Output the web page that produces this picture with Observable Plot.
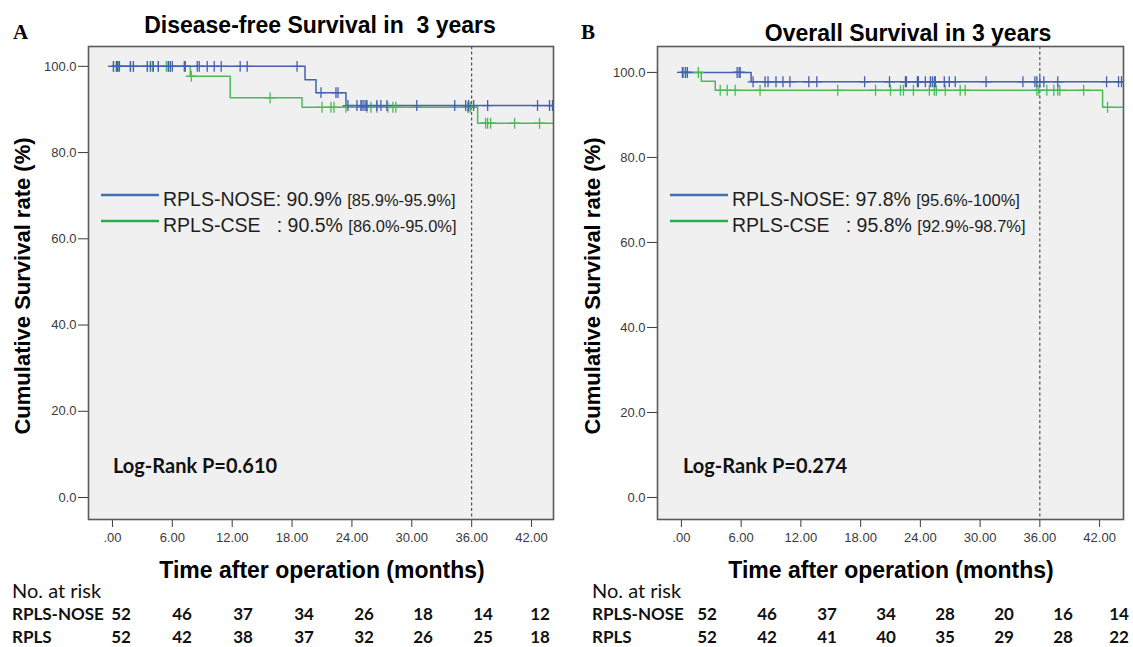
<!DOCTYPE html>
<html><head><meta charset="utf-8">
<script src="https://cdn.jsdelivr.net/npm/d3@7"></script>
<script src="https://cdn.jsdelivr.net/npm/@observablehq/plot@0.6"></script>
<style>
html,body{margin:0;padding:0;background:#fff;}
#wrap{position:relative;width:1133px;height:647px;overflow:hidden;font-family:"Liberation Sans",Arial,sans-serif;}
#wrap > svg{position:absolute;}
</style></head><body><div id="wrap"></div>
<script>
// ---------- data ----------
const tickMonths = [0, 6, 12, 18, 24, 30, 36, 42];
const yTicks = [0, 20, 40, 60, 80, 100];
const seriesNames = ["RPLS-NOSE", "RPLS-CSE"];
const riskRowLabels = ["RPLS-NOSE", "RPLS"];

// Panel A: disease-free survival (step times, survival %)
const A_nose_t = [0, 19.3, 20.4, 23.4];
const A_nose_s = [100, 96.9, 93.9, 90.9];
const A_cse_t = [0, 7.8, 11.8, 19.0, 36.6];
const A_cse_s = [100, 97.7, 92.7, 90.5, 86.8];
const A_nose_censor = [0.1, 0.4, 0.5, 0.7, 1.8, 2.1, 3.5, 3.8, 4.1, 4.6, 5.6, 5.8, 6.0, 7.2, 7.3, 8.5, 8.7, 9.5, 10.2, 10.9, 12.8, 13.5, 18.5, 20.9, 22.4, 22.6, 23.6, 24.5, 24.9, 25.0, 25.2, 25.4, 25.5, 26.5, 26.9, 27.5, 30.5, 34.3, 35.4, 35.7, 36.2, 37.6, 42.6, 43.8, 44.1];
const A_cse_censor = [0.1, 0.4, 0.6, 1.8, 2.1, 3.5, 4.0, 4.6, 5.4, 5.6, 5.8, 7.9, 15.8, 21.0, 21.9, 22.2, 23.4, 25.5, 25.9, 26.5, 27.6, 28.1, 28.4, 35.6, 35.7, 35.9, 37.4, 37.6, 37.9, 40.3, 42.8];
const A_legend = ["90.9%", "90.5%"];
const A_ci = ["[85.9%-95.9%]", "[86.0%-95.0%]"];
const A_pvalue = "Log-Rank P=0.610";
const A_riskNose = [52, 46, 37, 34, 26, 18, 14, 12];
const A_riskRpls = [52, 42, 38, 37, 32, 26, 25, 18];

// Panel B: overall survival
const B_nose_t = [0, 7.0];
const B_nose_s = [100, 97.8];
const B_cse_t = [0, 2.0, 3.4, 42.3];
const B_cse_s = [100, 97.9, 95.8, 91.8];
const B_nose_censor = [0.1, 0.4, 0.6, 5.6, 5.8, 5.9, 7.2, 8.4, 8.7, 9.5, 10.2, 10.9, 12.8, 13.6, 18.4, 20.9, 22.5, 22.6, 23.7, 23.8, 24.5, 25.0, 25.2, 25.4, 25.5, 26.4, 26.9, 27.5, 30.6, 34.3, 35.5, 35.7, 36.0, 36.4, 37.8, 42.7, 43.9, 44.2];
const B_cse_censor = [0.2, 0.6, 1.7, 3.9, 4.6, 5.4, 7.9, 15.7, 19.5, 21.0, 22.0, 22.3, 23.3, 24.9, 25.4, 25.6, 26.5, 28.0, 28.5, 35.7, 35.9, 36.7, 37.4, 37.8, 38.0, 40.4, 42.8];
const B_legend = ["97.8%", "95.8%"];
const B_ci = ["[95.6%-100%]", "[92.9%-98.7%]"];
const B_pvalue = "Log-Rank P=0.274";
const B_riskNose = [52, 46, 37, 34, 28, 20, 16, 14];
const B_riskRpls = [52, 42, 41, 40, 35, 29, 28, 22];

const titles = ["Disease-free Survival in  3 years", "Overall Survival in 3 years"];
const panelLetters = ["A", "B"];
const yTitle = "Cumulative Survival rate (%)";
const xTitle = "Time after operation (months)";
const riskTitle = "No. at risk";

// ---------- styles ----------
const BLUE = "#4360b3", GREEN = "#4cba58";
const LEG_BLUE = "#3d72b6", LEG_GREEN = "#2aaa4f";
const SANS = "'Liberation Sans', Arial, sans-serif";
const CAL = "Lato, 'Open Sans', sans-serif";

function survAt(t, times, surv) {
  let s = surv[0];
  for (let i = 0; i < times.length; i++) if (times[i] <= t) s = surv[i];
  return s;
}
function steps(times, surv, tEnd) {
  const d = times.map((t, i) => ({t, s: surv[i]}));
  d.push({t: tEnd, s: surv[surv.length - 1]});
  return d;
}
function censors(ct, times, surv) {
  return ct.map(t => ({t, s: survAt(t, times, surv)}));
}
const fmtX = d => d === 0 ? ".00" : d.toFixed(2);

function panel(cfg) {
  const xEnd = cfg.xDomain[1] + 1;
  return Plot.plot({
    width: cfg.width, height: 560,
    marginLeft: cfg.ml, marginRight: cfg.mr, marginTop: 46, marginBottom: 41,
    style: {background: "transparent", fontFamily: SANS, fontSize: "13px", color: "#3a3a3a", overflow: "visible"},
    x: {domain: cfg.xDomain, ticks: tickMonths, tickFormat: fmtX, tickSize: 8, tickPadding: 5, label: null},
    y: {domain: cfg.yDomain, ticks: yTicks, tickFormat: d3.format(".1f"), tickSize: 10, tickPadding: 2, label: null},
    marks: [
      Plot.frame({fill: "#f0f0f0"}),
      Plot.ruleX([36], {stroke: "#333", strokeWidth: 1, strokeDasharray: "3,2.5"}),
      Plot.line(steps(cfg.cse_t, cfg.cse_s, xEnd), {x: "t", y: "s", curve: "step-after", stroke: GREEN, strokeWidth: 1.5, clip: true}),
      Plot.line(steps(cfg.nose_t, cfg.nose_s, xEnd), {x: "t", y: "s", curve: "step-after", stroke: BLUE, strokeWidth: 1.5, clip: true}),
      Plot.dot(censors(cfg.cse_c, cfg.cse_t, cfg.cse_s), {x: "t", y: "s", symbol: "plus", r: 3.6, stroke: GREEN, strokeWidth: 1.3, clip: true}),
      Plot.dot(censors(cfg.nose_c, cfg.nose_t, cfg.nose_s), {x: "t", y: "s", symbol: "plus", r: 3.6, stroke: BLUE, strokeWidth: 1.3, clip: true}),
      Plot.frame({stroke: "#5a5a5a", strokeWidth: 1.6})
    ]
  });
}

const wrap = document.getElementById("wrap");
const pA = panel({width: 570, ml: 88, mr: 17, xDomain: [-2.4, 44.2], yDomain: [-5.1, 104.6],
  nose_t: A_nose_t, nose_s: A_nose_s, cse_t: A_cse_t, cse_s: A_cse_s, nose_c: A_nose_censor, cse_c: A_cse_censor});
pA.style.left = "0px"; pA.style.top = "0px";
wrap.appendChild(pA);
const pB = panel({width: 563, ml: 87, mr: 10, xDomain: [-2.4, 44.4], yDomain: [-5.18, 106.1],
  nose_t: B_nose_t, nose_s: B_nose_s, cse_t: B_cse_t, cse_s: B_cse_s, nose_c: B_nose_censor, cse_c: B_cse_censor});
pB.style.left = "570px"; pB.style.top = "0px";
wrap.appendChild(pB);

// ---------- text overlay ----------
const ov = d3.select(wrap).append("svg").attr("width", 1133).attr("height", 647)
  .style("left", "0px").style("top", "0px").style("pointer-events", "none");

function txt(x, y, s, o = {}) {
  const t = ov.append("text").attr("x", x).attr("y", y).text(s)
    .attr("font-family", o.family || SANS).attr("font-size", o.size || 16)
    .attr("font-weight", o.weight || "normal").attr("fill", o.fill || "#000")
    .attr("text-anchor", o.anchor || "start").attr("xml:space", "preserve").style("white-space", "pre");
  if (o.rotate) t.attr("transform", `rotate(-90,${x},${y})`);
  return t;
}

const panels = [
  {x0: 0, letterX: 13, titleX: 320, titleY: 33, yTitleX: 22, xTitleX: 322, legLineX: 101, legTextX: 163, pX: 113,
   legend: A_legend, ci: A_ci, p: A_pvalue, riskX: [121, 182, 243, 304, 364, 423, 483, 540], risk: [A_riskNose, A_riskRpls], labelX: 12},
  {x0: 570, letterX: 581, titleX: 908, titleY: 41, yTitleX: 592, xTitleX: 891, legLineX: 670, legTextX: 732, pX: 683,
   legend: B_legend, ci: B_ci, p: B_pvalue, riskX: [707, 767, 827, 886, 945, 1004, 1063, 1119], risk: [B_riskNose, B_riskRpls], labelX: 592}
];

panels.forEach((P, k) => {
  txt(P.letterX, 39, panelLetters[k], {family: "'Liberation Serif', 'Times New Roman', serif", size: 21, weight: "bold"});
  txt(P.titleX, P.titleY, titles[k], {size: 23, weight: "bold", anchor: "middle"});
  txt(P.yTitleX + 8, 286, yTitle, {size: 22, weight: "bold", anchor: "middle", rotate: true});
  txt(P.xTitleX, 578, xTitle, {size: 23, weight: "bold", anchor: "middle"});
  txt(P.pX, 473, P.p, {family: CAL, size: 20, weight: "bold", fill: "#111"});
  // legend
  const legY = [195, 221];
  const legCol = [LEG_BLUE, LEG_GREEN];
  const names = ["RPLS-NOSE: ", "RPLS-CSE   : "];
  legY.forEach((ly, i) => {
    ov.append("line").attr("x1", P.legLineX).attr("x2", P.legLineX + 58).attr("y1", ly).attr("y2", ly)
      .attr("stroke", legCol[i]).attr("stroke-width", 2.6);
    const t = txt(P.legTextX, ly + 11, names[i] + P.legend[i] + " ", {size: 19.5, fill: "#1e1e1e"});
    t.append("tspan").attr("font-size", 16.5).text(P.ci[i]);
  });
  // risk table
  txt(P.labelX, 598, riskTitle, {family: CAL, size: 20, fill: "#111"});
  [620, 643].forEach((ry, r) => {
    txt(P.labelX, ry, riskRowLabels[r], {family: CAL, size: 17, weight: "bold", fill: "#111"});
    P.risk[r].forEach((v, j) => txt(P.riskX[j], ry, String(v), {family: CAL, size: 17, weight: "bold", anchor: "middle", fill: "#111"}));
  });
});
</script></body></html>
